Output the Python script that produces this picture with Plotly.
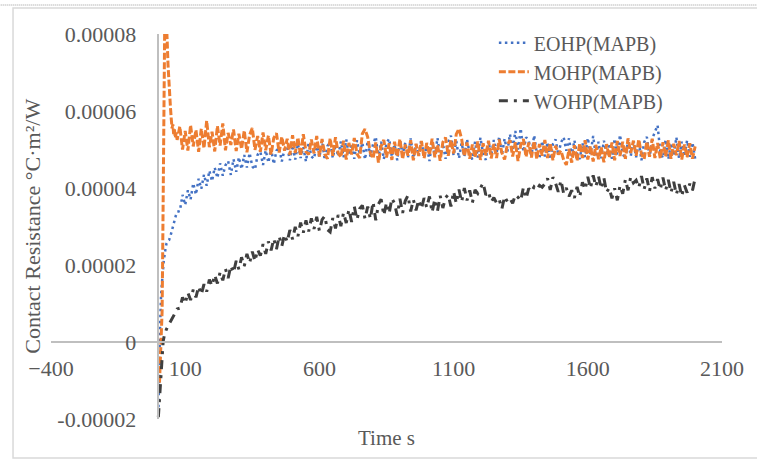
import plotly.graph_objects as go

# ---------------- data (values in units of 1e-6 °C·m²/W) ----------------
t_early_E = [0, 2, 4, 6, 8, 10, 13, 16, 20, 25, 30, 35, 40, 45, 50, 55, 60, 65, 70]
v_early_E = [-18.5, -14, -6, 3, 9, 12, 15, 18, 21, 23.5, 25.5, 26.2, 26.5, 27.5, 29, 30.5, 31.8, 32.8, 33.8]

t_early_M = [0, 2, 4, 6, 8, 10, 12, 14, 16, 18, 20, 22, 24, 27, 30, 33, 36, 39, 42, 45, 48, 51, 54, 57, 60, 63, 66, 70]
v_early_M = [-13, -12.5, -11, -8, -5, -2, 1, 8, 22, 40, 58, 74, 85, 88, 84, 78, 72, 67, 64, 61, 58, 55.5, 56.5, 54, 55.2, 53, 54.4, 52.5]

t_early_W = [0, 3, 6, 9, 12, 15, 18, 22, 26, 30, 35, 40, 45, 50, 55, 60, 65, 70]
v_early_W = [-19.5, -16, -12, -8, -4, -1.5, 0.2, 1.6, 2.6, 3.3, 4.0, 4.6, 5.1, 5.8, 6.5, 7.2, 7.9, 8.6]

t_main = list(range(80, 2001, 10))

eohp_main = [
    34.0, 38.2, 35.6, 39.4, 37.0, 41.2, 38.3, 42.4, 39.8, 43.5,
    40.6, 44.5, 41.8, 45.3, 42.6, 46.4, 43.2, 45.9, 47.0, 43.4,
    47.5, 44.2, 48.0, 44.9, 48.6, 45.3, 49.1, 45.6, 44.8, 48.7,
    49.4, 46.0, 49.8, 46.6, 50.3, 46.2, 49.7, 50.5, 46.9, 50.0,
    50.8, 47.2, 51.1, 47.4, 51.5, 47.8, 50.6, 46.9, 51.8, 48.2,
    47.6, 51.6, 47.9, 52.3, 47.3, 50.9, 51.9, 47.8, 51.3, 48.2,
    52.1, 48.0, 52.6, 48.5, 51.5, 47.6, 52.4, 48.7, 51.8, 47.4,
    52.2, 48.2, 51.4, 53.3, 47.8, 52.0, 47.5, 51.7, 52.8, 48.1,
    51.3, 47.2, 52.5, 48.6, 51.8, 47.9, 52.9, 47.7, 51.4, 48.4,
    52.6, 47.8, 51.5, 47.0, 52.1, 48.3, 53.0, 48.0, 51.6, 47.6,
    51.9, 53.6, 48.4, 52.2, 47.7, 51.7, 48.1, 52.7, 48.8, 47.4,
    52.0, 47.9, 53.1, 48.9, 47.3, 52.1, 48.5, 52.5, 48.9, 53.4,
    48.6, 52.8, 49.2, 54.0, 49.7, 54.8, 50.0, 55.5, 49.4, 53.2,
    52.3, 48.4, 53.7, 49.1, 47.7, 52.2, 48.2, 51.9, 47.4, 51.4,
    52.6, 48.6, 51.8, 53.2, 49.7, 52.9, 48.3, 52.4, 48.9, 47.5,
    51.7, 48.0, 53.0, 48.8, 53.5, 48.2, 52.0, 47.7, 52.3, 48.4,
    51.6, 47.6, 52.8, 48.7, 53.8, 49.0, 47.4, 52.5, 48.3, 52.1,
    48.0, 52.2, 47.2, 51.9, 53.3, 48.1, 52.7, 54.6, 56.3, 49.4,
    47.8, 52.6, 47.5, 51.7, 48.4, 53.2, 47.7, 52.0, 48.2, 52.4,
    48.1, 51.8, 47.6,
]

mohp_main = [
    56.0, 50.0, 54.8, 49.7, 56.3, 50.8, 55.1, 49.4, 55.4, 50.3,
    57.5, 50.6, 54.6, 49.5, 56.1, 51.0, 56.8, 49.8, 54.3, 51.2,
    55.2, 49.6, 54.1, 50.1, 54.9, 49.3, 53.8, 55.6, 49.9, 53.5,
    49.4, 54.4, 49.8, 53.6, 48.7, 53.0, 54.2, 49.2, 53.3, 49.7,
    52.8, 48.6, 53.7, 49.1, 53.1, 48.3, 54.0, 49.4, 48.7, 52.6,
    49.0, 53.5, 48.2, 52.7, 48.8, 47.6, 52.9, 48.4, 53.2, 49.1,
    48.0, 52.3, 47.4, 51.7, 48.7, 53.0, 48.9, 47.8, 54.1, 55.3,
    53.2, 49.0, 47.7, 51.8, 46.6, 50.9, 52.5, 47.9, 51.6, 47.3,
    52.0, 48.1, 52.7, 47.5, 51.3, 48.4, 52.4, 47.2, 51.5, 48.3,
    52.2, 47.7, 51.7, 48.6, 52.8, 48.0, 51.2, 47.1, 51.9, 53.1,
    48.4, 52.5, 49.0, 54.0, 55.4, 52.7, 48.2, 51.8, 47.6, 51.3,
    48.0, 52.1, 47.3, 51.6, 48.5, 52.3, 47.7, 51.4, 47.8, 52.6,
    49.1, 47.4, 51.1, 52.4, 48.2, 51.9, 47.0, 51.2, 52.7, 48.1,
    51.8, 47.9, 52.2, 47.5, 51.4, 48.4, 52.5, 47.8, 51.7, 47.2,
    51.0, 48.7, 49.7, 47.3, 46.0, 50.1, 46.6, 51.1, 47.1, 51.6,
    47.8, 52.4, 47.4, 50.9, 46.9, 51.2, 47.5, 50.6, 46.7, 51.4,
    47.9, 51.8, 47.2, 52.2, 48.3, 52.0, 47.6, 52.9, 49.1, 52.3,
    48.4, 52.6, 48.8, 47.5, 52.1, 48.1, 52.8, 47.8, 51.7, 47.7,
    51.9, 48.2, 52.4, 47.6, 51.5, 48.5, 52.2, 47.4, 51.3, 48.0,
    51.6, 47.6, 50.8,
]

wohp_main = [
    8.8, 11.6, 10.0, 12.8, 10.9, 13.6, 11.6, 14.4, 12.3, 15.0,
    13.1, 16.2, 14.6, 17.4, 15.2, 18.1, 16.0, 19.0, 16.6, 19.8,
    18.0, 21.1, 18.9, 22.0, 19.7, 22.9, 20.5, 23.5, 21.0, 24.0,
    22.4, 25.4, 22.9, 26.1, 23.8, 26.8, 24.1, 27.5, 24.9, 27.9,
    26.0, 29.1, 26.7, 29.9, 27.5, 31.0, 28.4, 31.6, 28.7, 32.1,
    29.4, 32.5, 28.9, 31.8, 32.7, 29.2, 28.6, 32.2, 29.5, 33.0,
    30.1, 33.6, 30.9, 34.4, 31.2, 35.2, 31.8, 34.6, 35.5, 32.0,
    35.2, 32.0, 36.4, 31.6, 35.8, 37.1, 32.9, 36.2, 33.4, 37.3,
    36.0, 32.8, 37.2, 33.5, 36.7, 38.1, 33.9, 37.0, 34.2, 36.9,
    34.6, 37.4, 34.9, 37.8, 33.7, 37.1, 34.0, 38.0, 34.8, 37.5,
    38.3, 35.2, 39.1, 36.0, 39.6, 36.4, 40.0, 36.8, 39.4, 36.2,
    39.5, 38.6, 40.0, 41.3, 38.2, 39.0, 36.4, 37.5, 36.1, 37.0,
    34.6, 37.8, 36.5, 37.3, 36.0, 38.2, 37.6, 36.7, 40.1, 37.3,
    39.9, 39.0, 40.3, 39.6, 40.7, 40.2, 41.1, 42.5, 39.5, 42.8,
    41.2, 39.0, 42.0, 38.6, 40.0, 37.8, 39.4, 37.4, 40.3, 37.7,
    41.5, 39.6, 42.9, 39.9, 43.3, 40.4, 43.0, 39.8, 42.6, 38.9,
    40.0, 37.3, 39.9, 36.8, 40.6, 38.5, 42.2, 39.4, 42.9, 41.3,
    42.0, 40.1, 43.1, 39.7, 42.5, 39.2, 42.8, 39.9, 42.3, 39.6,
    42.7, 39.4, 42.1, 38.8, 41.6, 38.3, 41.0, 37.9, 40.7, 38.8,
    41.1, 39.4, 42.6,
]

series_names = ["EOHP(MAPB)", "MOHP(MAPB)", "WOHP(MAPB)"]
x_tick_vals = [-400, 100, 600, 1100, 1600, 2100]
y_tick_vals = [-0.00002, 0, 0.00002, 0.00004, 0.00006, 0.00008]
y_tick_text = ["-0.00002", "0", "0.00002", "0.00004", "0.00006", "0.00008"]

SCALE = 1e-6

def to_si(vals):
    return [v * SCALE for v in vals]

series = [
    (series_names[0], t_early_E + t_main, to_si(v_early_E + eohp_main), "#4472C4", "2.5px,3.5px", 2.5),
    (series_names[1], t_early_M + t_main, to_si(v_early_M + mohp_main), "#ED7D31", "7px,2.5px", 3.0),
    (series_names[2], t_early_W + t_main, to_si(v_early_W + wohp_main), "#3F3F3F", "9px,6px,3px,6px", 3.0),
]

fig = go.Figure()
for name, xs, ys, color, dash, width in series:
    fig.add_trace(go.Scatter(
        x=xs, y=ys, name=name, mode="lines",
        line=dict(color=color, dash=dash, width=width),
    ))

FONT = "Liberation Serif"
TXT = "#595959"
AX = "#BFBFBF"

fig.update_layout(
    width=757, height=461,
    margin=dict(l=51, r=35, t=34, b=42),
    paper_bgcolor="white", plot_bgcolor="white",
    font=dict(family=FONT, color=TXT, size=20),
    showlegend=True,
    legend=dict(
        x=0.66, y=1.028, xanchor="left", yanchor="top",
        bgcolor="rgba(0,0,0,0)", font=dict(family=FONT, size=20, color=TXT),
        itemwidth=30, tracegroupgap=0,
    ),
    xaxis=dict(
        range=[-400, 2100], tickvals=x_tick_vals,
        showgrid=False, zeroline=False,
        showline=True, linecolor=AX, linewidth=1.6,
        anchor="free", position=0.2,
        ticks="", ticklabelstandoff=7,
        tickfont=dict(family=FONT, size=22, color=TXT),
    ),
    yaxis=dict(
        range=[-0.00002, 0.00008], tickvals=y_tick_vals, ticktext=y_tick_text,
        showgrid=False, zeroline=False,
        showline=True, linecolor=AX, linewidth=1.6,
        anchor="free", position=0.16,
        ticks="", ticklabelstandoff=17,
        tickfont=dict(family=FONT, size=22, color=TXT),
    ),
    annotations=[
        dict(text="Contact Resistance °C·m²/W", xref="paper", yref="paper",
             x=-0.028, y=0.5, xanchor="center", yanchor="middle", textangle=-90,
             showarrow=False, font=dict(family=FONT, size=22, color=TXT)),
        dict(text="Time s", xref="paper", yref="paper",
             x=0.5, y=-0.049, xanchor="center", yanchor="middle",
             showarrow=False, font=dict(family=FONT, size=21, color=TXT)),
    ],
    shapes=[
        dict(type="rect", xref="paper", yref="paper",
             x0=-0.0566, x1=1.07, y0=-0.1013, y1=1.0675,
             line=dict(color="#D9D9D9", width=1.5), fillcolor="rgba(0,0,0,0)", layer="below"),
        dict(type="line", xref="paper", yref="paper",
             x0=-0.08, x1=1.07, y0=1.0753, y1=1.0753,
             line=dict(color="#9A9A9A", width=1, dash="1px,1px")),
    ],
)

fig.write_html("out.html", config={"displayModeBar": False},
               post_script="document.body.style.margin='0px';")
